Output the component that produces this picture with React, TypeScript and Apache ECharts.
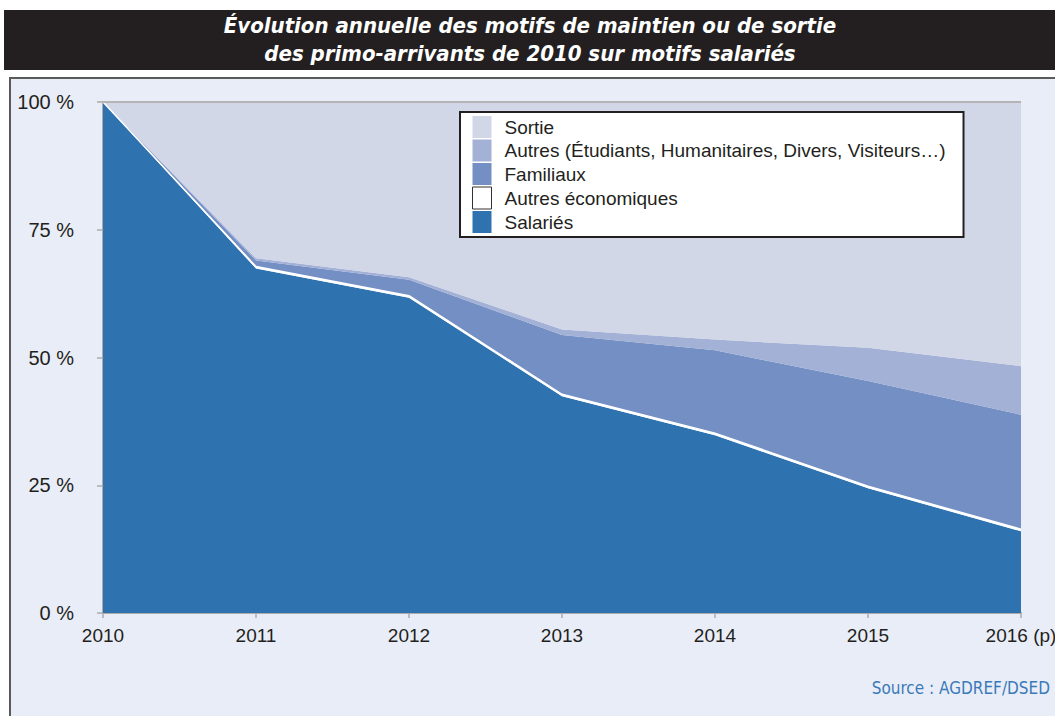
import React, { useEffect, useRef } from "react";
import * as echarts from "echarts";

const years = ["2010", "2011", "2012", "2013", "2014", "2015", "2016 (p)"];
const salaries = [100, 67.4, 61.7, 42.4, 34.8, 24.4, 16.0];
const autresEco = [0, 0.4, 0.4, 0.4, 0.4, 0.4, 0.4];
const familiaux = [0, 1.2, 3.1, 11.6, 16.2, 20.6, 22.4];
const autres = [0, 0.4, 0.5, 1.1, 2.1, 6.5, 9.5];
const sortie = [0, 30.6, 34.3, 44.5, 46.5, 48.1, 51.7];
const yTicks = [0, 25, 50, 75, 100];

const titleLines = [
  "Évolution annuelle des motifs de maintien ou de sortie",
  "des primo-arrivants de 2010 sur motifs salariés",
];
const sourceText = "Source : AGDREF/DSED";

const names = {
  sortie: "Sortie",
  autres: "Autres (Étudiants, Humanitaires, Divers, Visiteurs…)",
  familiaux: "Familiaux",
  autresEco: "Autres économiques",
  salaries: "Salariés",
};

const colors = {
  salaries: "#2e72b0",
  autresEco: "#ffffff",
  familiaux: "#738fc3",
  autres: "#a4b1d6",
  sortie: "#d2d7e8",
};

const SANS = "'Liberation Sans', Arial, sans-serif";
const NARROW = "'Liberation Sans Narrow', 'DejaVu Sans Condensed', sans-serif";

export default function App() {
  const ref = useRef<HTMLDivElement>(null);
  useEffect(() => {
    if (!ref.current) return;
    const chart = echarts.init(ref.current, null, { renderer: "svg" });
    const mk = (key: keyof typeof colors, data: number[], line?: any) => ({
      name: (names as any)[key],
      type: "line",
      stack: "total",
      data,
      showSymbol: false,
      symbol: "none",
      lineStyle: line || { width: 0 },
      itemStyle: { color: colors[key] },
      areaStyle: { color: colors[key], opacity: 1 },
      emphasis: { disabled: true },
    });
    chart.setOption({
      animation: false,
      backgroundColor: "transparent",
      textStyle: { fontFamily: SANS },
      graphic: [
        {
          type: "rect",
          z: -10,
          shape: { x: 10, y: 78, width: 1060, height: 660 },
          style: { fill: "#e9edf7", stroke: "#5a5a5a", lineWidth: 2 },
        },
        {
          type: "rect",
          z: -10,
          shape: { x: 4, y: 10, width: 1060, height: 60 },
          style: { fill: "#231f20" },
        },
        {
          type: "text",
          x: 530,
          y: 25,
          style: {
            text: titleLines[0],
            fill: "#ffffff",
            font: `italic bold 22px ${NARROW}`,
            align: "center",
            verticalAlign: "middle",
          },
        },
        {
          type: "text",
          x: 530,
          y: 53,
          style: {
            text: titleLines[1],
            fill: "#ffffff",
            font: `italic bold 22px ${NARROW}`,
            align: "center",
            verticalAlign: "middle",
          },
        },
        {
          type: "text",
          x: 1050,
          y: 688,
          style: {
            text: sourceText,
            fill: "#3a7ab9",
            font: `17px ${NARROW}`,
            align: "right",
            verticalAlign: "middle",
          },
        },
      ],
      legend: {
        orient: "vertical",
        left: 460,
        top: 112,
        backgroundColor: "#ffffff",
        borderColor: "#231f20",
        borderWidth: 2,
        padding: [4, 18, 4, 12],
        itemWidth: 19,
        itemHeight: 22,
        itemGap: 1.5,
        icon: "rect",
        selectedMode: false,
        itemStyle: { borderWidth: 0 },
        textStyle: { fontSize: 19, color: "#231f20", fontFamily: SANS, padding: [0, 0, 0, 8] },
        data: [
          { name: names.sortie, itemStyle: { color: colors.sortie, borderWidth: 0 } },
          { name: names.autres, itemStyle: { color: colors.autres, borderWidth: 0 } },
          { name: names.familiaux, itemStyle: { color: colors.familiaux, borderWidth: 0 } },
          {
            name: names.autresEco,
            itemStyle: { color: "#ffffff", borderColor: "#333333", borderWidth: 1 },
          },
          { name: names.salaries, itemStyle: { color: colors.salaries, borderWidth: 0 } },
        ],
      },
      grid: { left: 103, right: 34, top: 102, bottom: 103, outerBoundsMode: "none", containLabel: false },
      xAxis: {
        type: "category",
        data: years,
        boundaryGap: false,
        axisLine: { lineStyle: { color: "#ababab", width: 2 } },
        axisTick: { show: true, length: 5, lineStyle: { color: "#ababab", width: 1.5 } },
        axisLabel: { color: "#231f20", fontSize: 19, margin: 13, fontFamily: SANS },
        splitLine: { show: false },
      },
      yAxis: {
        type: "value",
        min: 0,
        max: 100,
        interval: 25,
        axisLine: { show: true, lineStyle: { color: "#ababab", width: 2 } },
        axisTick: { show: true, length: 6, lineStyle: { color: "#ababab", width: 1.5 } },
        axisLabel: {
          color: "#231f20",
          fontSize: 20,
          margin: 29,
          fontFamily: SANS,
          formatter: (v: number) => (yTicks.includes(v) ? `${v} %` : ""),
        },
        splitLine: { show: false },
      },
      series: [
        mk("salaries", salaries),
        mk("autresEco", autresEco, { width: 1.5, color: "#ffffff" }),
        mk("familiaux", familiaux),
        mk("autres", autres),
        mk("sortie", sortie, { width: 2, color: "#b4b4b4" }),
      ],
    });
    return () => chart.dispose();
  }, []);
  return (
    <div
      ref={ref}
      style={{ position: "absolute", left: 0, top: 0, width: 1055, height: 716, background: "#ffffff" }}
    />
  );
}
